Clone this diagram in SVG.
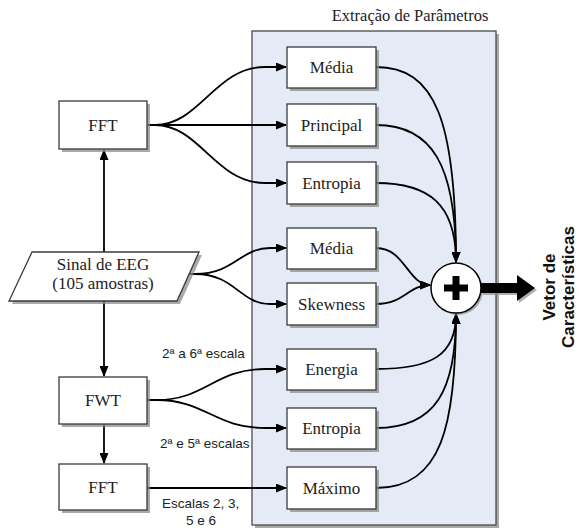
<svg xmlns="http://www.w3.org/2000/svg" width="579" height="528" viewBox="0 0 579 528">
<defs>
<style>
.sh{fill:#8c8c8c;opacity:0.75}
.box{fill:#ffffff;stroke:#3a3a3a;stroke-width:1.3}
.lbl{font-family:"Liberation Serif","Times New Roman",serif;font-size:17px;fill:#222;text-anchor:middle}
.sm{font-family:"Liberation Sans",Arial,sans-serif;font-size:13.5px;fill:#222}
.vt{font-family:"Liberation Sans",Arial,sans-serif;font-size:17px;font-weight:bold;fill:#111;text-anchor:middle}
.ln{fill:none;stroke:#000;stroke-width:1.8}
</style>
<marker id="ah" markerUnits="userSpaceOnUse" markerWidth="11" markerHeight="9" refX="10" refY="4.5" orient="auto">
<path d="M0,0 L11,4.5 L0,9 z" fill="#000"/>
</marker>
</defs>

<g id="panel">
<rect class="sh" x="255" y="34" width="244" height="494"/>
<rect x="252" y="31" width="244" height="494" fill="#e5ebf6" stroke="#4a4a4a" stroke-width="1.3"/>
<text x="410" y="21" class="lbl" style="font-size:16.5px">Extração de Parâmetros</text>
</g>

<g id="connectors">
<path class="ln" d="M104,252 L104,150" marker-end="url(#ah)"/>
<path class="ln" d="M104,301 L104,376" marker-end="url(#ah)"/>
<path class="ln" d="M104,424 L104,463" marker-end="url(#ah)"/>
<path class="ln" d="M147,125 L155,125 C200,125 215,67 265,67 L286,67" marker-end="url(#ah)"/>
<path class="ln" d="M147,125 L286,125" marker-end="url(#ah)"/>
<path class="ln" d="M155,125 C200,125 215,183 265,183 L286,183" marker-end="url(#ah)"/>
<path class="ln" d="M188,274 L195,274 C235,274 240,248 270,248 L286,248" marker-end="url(#ah)"/>
<path class="ln" d="M195,274 C235,274 240,304 270,304 L286,304" marker-end="url(#ah)"/>
<path class="ln" d="M147,400 L157,400 C205,400 215,369 265,369 L286,369" marker-end="url(#ah)"/>
<path class="ln" d="M157,400 C205,400 215,428 265,428 L286,428" marker-end="url(#ah)"/>
<path class="ln" d="M147,488 L286,488" marker-end="url(#ah)"/>
<path class="ln" d="M376,67 C435,67 456,120 456,262" marker-end="url(#ah)"/>
<path class="ln" d="M376,125 C432,125 456,165 456,262" marker-end="url(#ah)"/>
<path class="ln" d="M376,183 C430,183 456,205 456,262" marker-end="url(#ah)"/>
<path class="ln" d="M376,248 C405,248 408,285 430,285" marker-end="url(#ah)"/>
<path class="ln" d="M376,304 C405,304 408,285 430,285" marker-end="url(#ah)"/>
<path class="ln" d="M376,369 C432,369 456,355 456,314" marker-end="url(#ah)"/>
<path class="ln" d="M376,428 C436,428 456,390 456,314" marker-end="url(#ah)"/>
<path class="ln" d="M376,488 C442,488 456,425 456,314" marker-end="url(#ah)"/>
<text class="sm" x="162" y="358">2ª a 6ª escala</text>
<text class="sm" x="160" y="448">2ª e 5ª escalas</text>
<text class="sm" x="162" y="508">Escalas 2, 3,</text>
<text class="sm" x="201" y="525" text-anchor="middle">5 e 6</text>
</g>

<g id="fft1">
<rect class="sh" x="62" y="104" width="88" height="48"/>
<rect class="box" x="59" y="101" width="88" height="48"/>
<text class="lbl" x="103" y="131">FFT</text>
</g>
<g id="sinal">
<polygon class="sh" points="35,255 202,255 180,304 12,304"/>
<polygon class="box" points="32,252 199,252 177,301 9,301"/>
<text class="lbl" x="103" y="270">Sinal de EEG</text>
<text class="lbl" x="103" y="289">(105 amostras)</text>
</g>
<g id="fwt">
<rect class="sh" x="62" y="380" width="88" height="47"/>
<rect class="box" x="59" y="377" width="88" height="47"/>
<text class="lbl" x="103" y="406">FWT</text>
</g>
<g id="fft2">
<rect class="sh" x="62" y="467" width="88" height="46"/>
<rect class="box" x="59" y="464" width="88" height="46"/>
<text class="lbl" x="103" y="493">FFT</text>
</g>

<g id="media1">
<rect class="sh" x="290" y="50" width="89" height="41"/>
<rect class="box" x="287" y="47" width="89" height="41"/>
<text class="lbl" x="331.5" y="73">Média</text>
</g>
<g id="principal">
<rect class="sh" x="290" y="107" width="89" height="42"/>
<rect class="box" x="287" y="104" width="89" height="42"/>
<text class="lbl" x="331.5" y="131">Principal</text>
</g>
<g id="entropia1">
<rect class="sh" x="290" y="165" width="89" height="42"/>
<rect class="box" x="287" y="162" width="89" height="42"/>
<text class="lbl" x="331.5" y="189">Entropia</text>
</g>
<g id="media2">
<rect class="sh" x="290" y="231" width="89" height="41"/>
<rect class="box" x="287" y="228" width="89" height="41"/>
<text class="lbl" x="331.5" y="254">Média</text>
</g>
<g id="skewness">
<rect class="sh" x="290" y="286" width="89" height="42"/>
<rect class="box" x="287" y="283" width="89" height="42"/>
<text class="lbl" x="331.5" y="310">Skewness</text>
</g>
<g id="energia">
<rect class="sh" x="290" y="352" width="89" height="41"/>
<rect class="box" x="287" y="349" width="89" height="41"/>
<text class="lbl" x="331.5" y="375">Energia</text>
</g>
<g id="entropia2">
<rect class="sh" x="290" y="411" width="89" height="41"/>
<rect class="box" x="287" y="408" width="89" height="41"/>
<text class="lbl" x="331.5" y="434">Entropia</text>
</g>
<g id="maximo">
<rect class="sh" x="290" y="470" width="89" height="42"/>
<rect class="box" x="287" y="467" width="89" height="42"/>
<text class="lbl" x="331.5" y="494">Máximo</text>
</g>

<g id="soma">
<circle cx="458" cy="290" r="25" fill="#8c8c8c" opacity="0.7"/>
<circle cx="456" cy="288" r="25" fill="#fff" stroke="#000" stroke-width="1.5"/>
<path d="M452.5,276 h7 v8.5 h8.5 v7 h-8.5 v8.5 h-7 v-8.5 h-8.5 v-7 h8.5 z" fill="#000"/>
</g>

<g id="saida">
<path d="M483,285 L519,285 L519,277 L537,290 L519,303 L519,295 L483,295 z" fill="#8c8c8c" opacity="0.7"/>
<path d="M481,283 L517,283 L517,275 L535,288 L517,301 L517,293 L481,293 z" fill="#000"/>
<text class="vt" transform="translate(555,287) rotate(-90)">Vetor de</text>
<text class="vt" transform="translate(574,287) rotate(-90)">Características</text>
</g>
</svg>
